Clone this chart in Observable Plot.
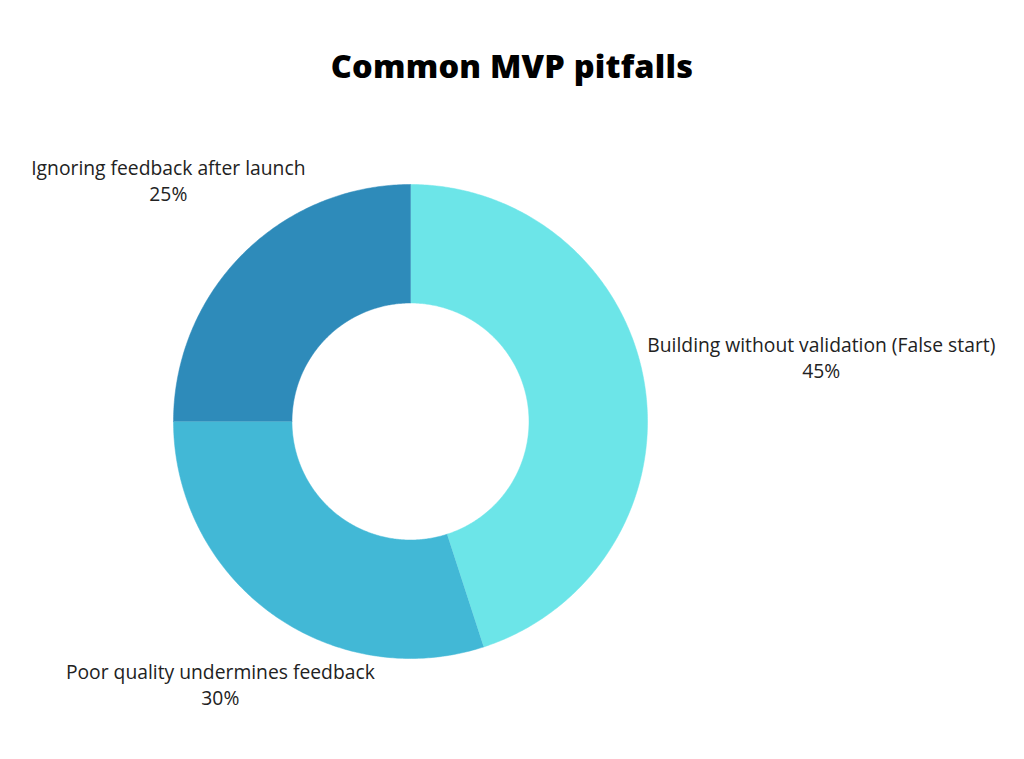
<!DOCTYPE html>
<html>
<head>
<meta charset="utf-8">
<script src="https://cdn.jsdelivr.net/npm/d3@7"></script>
<script src="https://cdn.jsdelivr.net/npm/@observablehq/plot@0.6"></script>
<style>
  html, body { margin: 0; padding: 0; background: #fff; }
  #title { height: 130px; display: flex; align-items: center; justify-content: center;
    font-family: "Open Sans", sans-serif; font-weight: 800; font-size: 32.5px; color: #000; letter-spacing: 0.2px; }
  #chart svg { display: block; }
</style>
</head>
<body>
<div id="title">Common MVP pitfalls</div>
<div id="chart"></div>
<script>
const categories = ["Building without validation (False start)", "Poor quality undermines feedback", "Ignoring feedback after launch"];
const values = [45, 30, 25];
const colors = ["#6CE5E8", "#42B8D6", "#2E8BBA"];

// layout constants
const W = 1024, H = 629, R = 237, CX = 410, CY = 291;
const innerRatio = 0.5;
const labelDist = [1.755, 1.365, 1.445];

const pie = d3.pie().sort(null).value(d => d.value)(categories.map((c, i) => ({cat: c, value: values[i]})));

const pts = [];
pie.forEach(s => {
  const n = Math.max(2, Math.ceil((s.endAngle - s.startAngle) / 0.01));
  for (let k = 0; k <= n; k++) {
    const a = s.startAngle + (s.endAngle - s.startAngle) * k / n;
    pts.push({cat: s.data.cat, x: Math.sin(a), y: Math.cos(a)});
  }
  for (let k = n; k >= 0; k--) {
    const a = s.startAngle + (s.endAngle - s.startAngle) * k / n;
    pts.push({cat: s.data.cat, x: innerRatio * Math.sin(a), y: innerRatio * Math.cos(a)});
  }
});

const labels = pie.map((s, i) => {
  const a = (s.startAngle + s.endAngle) / 2;
  return {x: labelDist[i] * Math.sin(a), y: labelDist[i] * Math.cos(a), text: `${s.data.cat}\n${s.data.value}%`};
});

const chart = Plot.plot({
  width: W, height: H,
  margin: 0,
  x: {domain: [-CX / R, (W - CX) / R], axis: null},
  y: {domain: [-(H - CY) / R, CY / R], axis: null},
  color: {domain: categories, range: colors},
  style: {fontFamily: "Open Sans, sans-serif", background: "#fff"},
  marks: [
    Plot.line(pts, {x: "x", y: "y", z: "cat", fill: "cat", stroke: "cat", strokeWidth: 0.5, curve: "linear"}),
    Plot.text(labels, {x: "x", y: "y", text: "text", fontSize: 19.3, fill: "#222", lineHeight: 1.36, textAnchor: "middle"})
  ]
});
document.getElementById("chart").appendChild(chart);
</script>
</body>
</html>
